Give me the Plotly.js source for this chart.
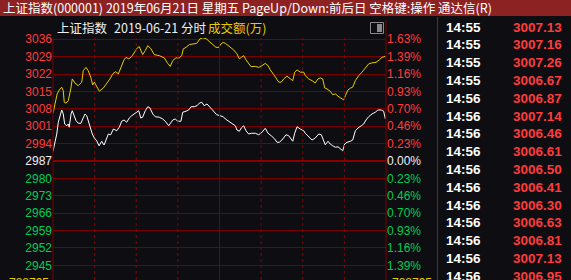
<!DOCTYPE html>
<html><head><meta charset="utf-8">
<script src="https://cdn.plot.ly/plotly-3.0.1.min.js"></script>
<style>html,body{margin:0;padding:0;background:#0e0e12;overflow:hidden}#chart{width:571px;height:280px}</style>
</head><body><div id="chart"></div>
<script>
// ---- data ----
const prevClose = 2987.12;
const gridStep = 6.945;
const priceTickLabels = ['2945','2952','2959','2966','2973','2980','2987','2994','3001','3008','3015','3022','3029','3036'];
const pctTickLabels = ['1.39%','1.16%','0.93%','0.70%','0.46%','0.23%','0.00%','0.23%','0.46%','0.70%','0.93%','1.16%','1.39%','1.63%'];
const tickSide = [-1,-1,-1,-1,-1,-1,0,1,1,1,1,1,1,1];

// minutes since 9:30 (0..240, 120 = 11:30/13:00)
const yellowMin = [
 0,1,3,4.5,6.3,7.4,8.1,9.4,11,12.8,
 13.9,15.9,18.2,20.7,21.8,23.8,25.4,27.2,28.6,29.8,
 31.5,33.4,36.3,38.7,41.1,43,45.2,47.1,49,51.2,
 52.6,54.6,56.7,58.4,60.8,62.2,64.6,66.5,68.3,70.6,
 73,76.6,80.2,82.7,84.5,86.3,88.6,91,92.8,93.9,
 95.9,98.2,101.8,103.6,105.9,107.9,110.3,112.2,114.6,117.5,
 119.4,121.1,122.7,124.2,126.6,130.2,132.6,134.3,135.7,137.4,
 139.1,141,142.7,145.8,148.2,150.6,153,155,156.6,159.1,
 160.9,162.7,164.5,166.3,168.6,171,172.8,174.2,175.9,178.2,
 180.7,181.8,184.3,186.7,189,191,192.6,194.4,195.8,197.5,
 199.8,201.6,203.5,205.4,207.8,209.5,210.7,212.6,214.3,216,
 217.9,220.3,222.7,225.1,227.5,229.9,232.8,235.2,237.1,239.5];
const yellowVal = [
 3006.2,3009.2,3013.9,3015.5,3016.6,3015.2,3010.6,3010.2,3011.2,3015.9,
 3019.9,3018.2,3017.2,3018.6,3023.2,3024.5,3023.2,3020.6,3017.5,3018.6,
 3016.6,3015.0,3016.3,3017.9,3019.9,3021.9,3022.8,3021.9,3024.5,3027.5,
 3028.5,3027.9,3028.8,3030.5,3032.3,3032.8,3029.6,3031.2,3033.2,3031.9,
 3029.6,3029.2,3028.3,3026.1,3024.9,3027.2,3028.3,3028.3,3029.2,3031.9,
 3032.5,3033.6,3033.9,3034.1,3035.9,3036.3,3036.0,3034.9,3033.9,3032.5,
 3032.5,3033.9,3034.5,3034.1,3033.2,3031.5,3029.9,3027.9,3028.5,3029.2,
 3027.5,3025.9,3024.8,3024.9,3024.5,3025.2,3026.1,3025.2,3023.5,3021.6,
 3019.9,3018.6,3018.6,3019.9,3021.0,3019.9,3019.2,3022.6,3023.5,3022.6,
 3022.6,3021.2,3019.9,3019.2,3018.3,3019.9,3020.3,3019.9,3016.3,3015.9,
 3015.0,3013.6,3013.9,3013.0,3012.3,3011.5,3013.2,3015.5,3016.2,3016.6,
 3019.2,3021.2,3022.6,3024.5,3025.9,3026.3,3026.5,3027.5,3028.5,3028.9];

const whiteMin = [
 0,1.4,2.7,3.8,5,6.3,7.4,8.4,9.9,11,
 11.7,13,13.9,15.1,16.6,18.2,20.2,21.4,23.1,24.3,
 25.4,26.7,28.3,29.8,31.5,33.2,35.1,36.8,38.7,39.9,
 41.6,43.5,45.9,47.8,49.5,51.2,53.1,55,56.7,58.4,
 60.8,61.8,63.2,64.6,66.5,68.3,69.9,71.9,73.7,76.6,
 79.1,80.9,83.4,84.5,86.3,88.1,89.9,92.2,93.5,95.9,
 97.8,99.5,101.8,103.8,105.4,107.2,109,111,113.2,115.5,
 118,120.4,122.7,124.2,126.6,129,131.4,132.6,134.3,135.7,
 137.4,139.1,141,142.9,145.8,148.2,150.6,153,155,157.3,
 159.8,161.4,163.1,165,167.9,169.9,172.8,174.2,175.9,178.2,
 180.7,181.8,184.3,186.7,189,191.5,193.4,195.1,196.2,198.2,
 199.8,201.6,203.5,205.4,207.1,208.8,210.2,211.9,214.3,216,
 217.9,219.8,222.2,223.9,225.6,227.5,229.9,232.3,234.2,236.6,238.3,239.5];
const whiteVal = [
 2991.0,2994.6,2997.9,3002.6,3005.2,3007.5,3005.9,3001.9,3001.2,3001.9,
 3000.6,3005.9,3007.2,3005.2,3003.2,3002.2,3002.2,3003.9,3005.9,3005.2,
 3003.0,3001.2,2997.9,2996.3,2995.2,2993.2,2995.0,2993.5,2995.9,2997.9,
 2997.6,2999.9,2999.2,3000.6,3003.0,3003.5,3002.6,3004.3,3005.2,3005.9,
 3007.0,3007.2,3004.3,3004.6,3007.2,3008.8,3008.3,3005.9,3004.8,3004.6,
 3003.9,3003.0,3001.2,3001.9,3003.5,3003.9,3003.0,3003.0,3006.6,3007.0,
 3007.5,3008.8,3008.8,3009.2,3010.2,3010.6,3009.2,3009.9,3008.6,3007.0,
 3005.6,3005.2,3004.8,3003.9,3003.0,3002.2,3001.2,2999.5,2999.0,3000.3,
 3001.2,2999.2,2997.9,2998.2,2998.2,2997.6,2998.6,3000.2,2998.2,2997.2,
 2995.9,2994.6,2994.6,2995.5,2997.6,2997.2,2995.0,2998.2,3000.8,2999.9,
 2999.2,2998.2,2996.6,2995.5,2996.3,2997.9,2997.6,2995.5,2993.6,2995.0,
 2993.9,2993.2,2992.6,2992.8,2991.9,2991.2,2993.9,2994.6,2995.0,2995.5,
 2999.2,3000.3,3001.2,3001.9,3003.5,3004.8,3005.9,3006.6,3007.5,3007.5,3007.0,3004.0];

const tickTimes = ['14:55','14:55','14:55','14:55','14:56','14:56','14:56','14:56','14:56','14:56','14:56','14:56','14:56','14:56','14:56'];
const tickPrices = ['3007.13','3007.16','3007.26','3006.67','3006.87','3007.14','3006.46','3006.61','3006.50','3006.41','3006.30','3006.63','3006.81','3007.13','3006.95'];

const titleText = '上证指数(000001) 2019年06月21日 星期五 PageUp/Down:前后日 空格键:操作 通达信(R)';
const headerName = '上证指数';
const headerDate = '2019-06-21 分时';
const headerVol = '成交额(万)';
const volLabel = '788795';

// ---- layout helpers ----
const L = 53, T = 38, W = 333, H = 242;
const px = x => (x - L) / W;
const py = y => (T + H - y) / H;
const RED = '#ff3b3b', GREEN = '#00cc55', WHITE = '#f0f0f0', YEL = '#e8cc00';
const GRID = '#7a0000';
const colOf = s => s > 0 ? RED : (s < 0 ? GREEN : WHITE);

const tickVals = tickSide.map((s, i) => prevClose + (i - 6) * gridStep);
const leftText = priceTickLabels.map((t, i) => `<span style="color:${colOf(tickSide[i])}">${t}</span>`);
const rightText = pctTickLabels.map((t, i) => `<span style="color:${colOf(tickSide[i])}">${t}</span>`);

const yTop = prevClose + (161 - T) / 2.504;
const yBot = prevClose - (T + H - 161) / 2.504;

const traces = [
  {x: yellowMin, y: yellowVal, type: 'scatter', mode: 'lines', line: {color: YEL, width: 1}, cliponaxis: false, hoverinfo: 'skip'},
  {x: whiteMin, y: whiteVal, type: 'scatter', mode: 'lines', line: {color: '#ffffff', width: 1}, cliponaxis: false, hoverinfo: 'skip'},
  {x: [0], y: [prevClose], yaxis: 'y2', type: 'scatter', mode: 'markers', marker: {opacity: 0}, hoverinfo: 'skip'}
];

const shapes = [];
// title bar
shapes.push({type: 'rect', xref: 'paper', yref: 'paper', x0: px(0), x1: px(571), y0: py(16), y1: py(0), fillcolor: '#8c2222', line: {width: 0}, layer: 'below'});
// vertical grid
[30, 60, 90, 150, 180, 210].forEach(v => shapes.push({type: 'line', xref: 'x', yref: 'paper', x0: v, x1: v, y0: 0, y1: 1, line: {color: '#8a0000', width: 1, dash: 'dot'}}));
shapes.push({type: 'line', xref: 'x', yref: 'paper', x0: 120, x1: 120, y0: 0, y1: 1, line: {color: GRID, width: 1}});
// previous close line
shapes.push({type: 'line', xref: 'paper', yref: 'y', x0: 0, x1: 1, y0: prevClose, y1: prevClose, line: {color: '#8a0000', width: 2}});
// frame
shapes.push({type: 'line', xref: 'paper', yref: 'paper', x0: 0, x1: 0, y0: 0, y1: 1, line: {color: GRID, width: 1}});
shapes.push({type: 'line', xref: 'paper', yref: 'paper', x0: 1, x1: 1, y0: 0, y1: py(20), line: {color: GRID, width: 1}});
// right panel separator
shapes.push({type: 'line', xref: 'paper', yref: 'paper', x0: px(437.5), x1: px(437.5), y0: 0, y1: py(17), line: {color: '#3a3a3a', width: 1}});
// small icon
shapes.push({type: 'rect', xref: 'paper', yref: 'paper', x0: px(370.5), x1: px(383.5), y0: py(33.5), y1: py(22.5), line: {color: '#8a8a8a', width: 1}, fillcolor: 'rgba(0,0,0,0)'});
shapes.push({type: 'rect', xref: 'paper', yref: 'paper', x0: px(377), x1: px(382), y0: py(32), y1: py(24), line: {width: 0}, fillcolor: '#8a8a8a'});

const ann = [];
const txt = (x, y, text, color, size, anchor, family, extra) => ann.push(Object.assign({
  xref: 'paper', yref: 'paper', x: px(x), y: py(y), text, showarrow: false,
  xanchor: anchor, yanchor: 'middle', font: {color, size, family}
}, extra || {}));
const CJK = '"Noto Sans CJK SC", "Liberation Sans", sans-serif';
const SANS = '"Liberation Sans", Arial, sans-serif';
txt(1, 8, titleText, '#ffffff', 12.5, 'left', CJK);
txt(55, 27, headerName, WHITE, 12.5, 'left', CJK);
txt(112, 27, headerDate, WHITE, 12.5, 'left', CJK);
txt(206, 27, headerVol, YEL, 12.5, 'left', CJK);
tickTimes.forEach((t, i) => {
  const y = 27 + i * 17.8;
  txt(444, y, '<b>' + t + '</b>', '#ffffff', 13.5, 'left', SANS);
  txt(564, y, '<b>' + tickPrices[i] + '</b>', RED, 13.5, 'right', SANS);
});
txt(50.5, 283, volLabel, YEL, 12, 'right', SANS);
txt(390, 283, volLabel, YEL, 12, 'left', SANS);

const layout = {
  width: 571, height: 280,
  margin: {l: L, r: 571 - L - W, t: T, b: 280 - T - H, pad: 0},
  paper_bgcolor: '#0e0e12', plot_bgcolor: '#0e0e12',
  showlegend: false,
  xaxis: {range: [0, 240], showgrid: false, zeroline: false, showticklabels: false, ticks: '', showline: false, fixedrange: true},
  yaxis: {range: [yBot, yTop], tickvals: tickVals, ticktext: leftText, showgrid: true, gridcolor: GRID, gridwidth: 1,
          zeroline: false, ticks: '', showline: false, tickfont: {family: SANS, size: 12}, fixedrange: true},
  yaxis2: {range: [yBot, yTop], overlaying: 'y', side: 'right', tickvals: tickVals, ticktext: rightText, showgrid: false,
           zeroline: false, ticks: '', showline: false, tickfont: {family: SANS, size: 12}, fixedrange: true},
  shapes, annotations: ann
};
Plotly.newPlot('chart', traces, layout, {displayModeBar: false, staticPlot: true});
</script></body></html>
